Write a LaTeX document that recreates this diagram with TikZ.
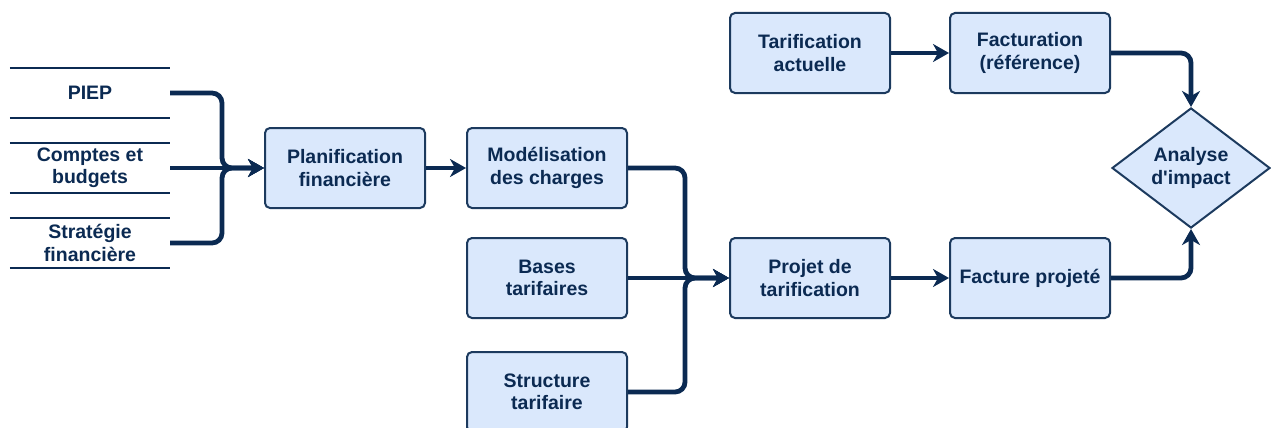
\documentclass[tikz,border=0pt]{standalone}
\usepackage{fontspec}
\setmainfont{Liberation Sans}
\usetikzlibrary{arrows.meta,shapes.geometric}
\definecolor{navy}{HTML}{0B2A52}
\definecolor{boxfill}{HTML}{DAE8FC}
\definecolor{boxline}{HTML}{1C3A5E}
\begin{document}
\begin{tikzpicture}[x=1pt,y=-1pt,
  every node/.style={font=\fontsize{19.5}{22.5}\selectfont\bfseries, text=navy, align=center},
  procbox/.style={draw=boxline, fill=boxfill, line width=2pt, rounded corners=5pt,
    minimum width=160pt, minimum height=80pt, inner sep=0pt},
  decbox/.style={diamond, draw=boxline, fill=boxfill, line width=2pt,
    minimum width=158pt, minimum height=106pt, inner sep=0pt},
  storebox/.style={minimum width=160pt, minimum height=50pt, inner sep=0pt},
  storeline/.style={draw=navy, line width=1.8pt},
  conn/.style={draw=navy, line width=4.8pt, rounded corners=10pt,
    -{Stealth[length=16pt, width=18pt, inset=5pt]}}]
\useasboundingbox (0,0) rectangle (1271,428);
% data stores
\node[storebox] (piep) at (90,93) {PIEP};
\node[storebox] (comptes) at (90,168) {Comptes et\\budgets};
\node[storebox] (strat) at (90,243) {Stratégie\\financière};
\foreach \s in {piep,comptes,strat}{
  \draw[storeline] (\s.north west) -- (\s.north east);
  \draw[storeline] (\s.south west) -- (\s.south east);
}
% process boxes
\node[procbox] (plan) at (345,168) {Planification\\financière};
\node[procbox] (model) at (547,168) {Modélisation\\des charges};
\node[procbox] (bases) at (547,278) {Bases\\tarifaires};
\node[procbox] (struct) at (547,392) {Structure\\tarifaire};
\node[procbox] (projet) at (810,278) {Projet de\\tarification};
\node[procbox] (facproj) at (1030,278) {Facture projeté};
\node[procbox] (tarif) at (810,53) {Tarification\\actuelle};
\node[procbox] (factref) at (1030,53) {Facturation\\(référence)};
\node[decbox] (impact) at (1191,168) {Analyse\\d\textquotesingle impact};
% junctions
\coordinate (j1) at (222,168);
\coordinate (j2) at (685,278);
% connectors
\draw[conn] (piep.east) -| (j1) -- (plan.west);
\draw[conn] (strat.east) -| (j1) -- (plan.west);
\draw[conn] (comptes.east) -- (plan.west);
\draw[conn] (plan.east) -- (model.west);
\draw[conn] (model.east) -| (j2) -- (projet.west);
\draw[conn] (struct.east) -| (j2) -- (projet.west);
\draw[conn] (bases.east) -- (projet.west);
\draw[conn] (projet.east) -- (facproj.west);
\draw[conn] (tarif.east) -- (factref.west);
\draw[conn] (factref.east) -| (impact.north);
\draw[conn] (facproj.east) -| (impact.south);
\end{tikzpicture}
\end{document}
